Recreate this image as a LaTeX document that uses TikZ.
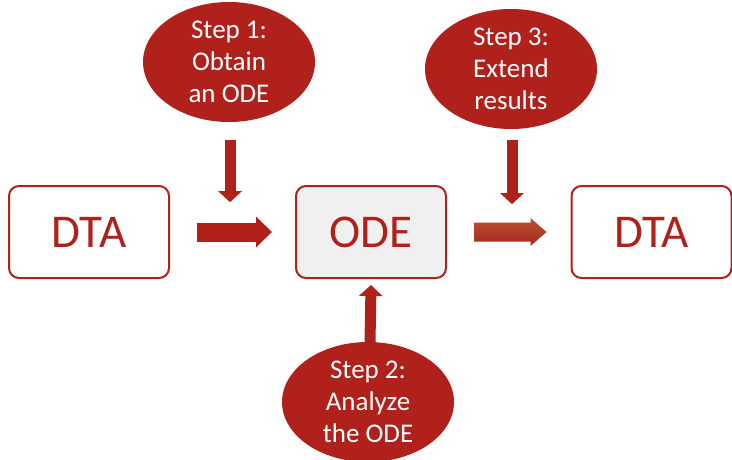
\documentclass[tikz,border=0pt]{standalone}
\usepackage{fontspec}
\setmainfont{Carlito}
\usetikzlibrary{arrows.meta,calc,shapes.geometric}
\definecolor{dred}{RGB}{175,33,26}
\definecolor{boxgray}{RGB}{240,240,240}
\definecolor{gradtop}{RGB}{186,82,50}
\definecolor{gradbot}{RGB}{165,40,28}
\tikzset{
  x=1pt,y=1pt,
  box/.style={draw=dred,line width=2pt,rounded corners=10pt,minimum width=160pt,minimum height=92pt,
    inner sep=0pt,text=dred,font=\fontsize{47}{50}\selectfont},
  stepell/.style={ellipse,fill=dred,minimum width=172pt,minimum height=120pt,inner sep=0pt,
    text=white,align=center,font=\fontsize{27}{32}\selectfont},
  blockarrow/.style={draw=dred,line width=11pt,line cap=butt,-{Triangle[width=23pt,length=11pt]}},
  fatarrow/.style={draw=dred,line width=19pt,line cap=butt,-{Triangle[width=30pt,length=16pt]}},
}
\begin{document}
\begin{tikzpicture}
\useasboundingbox (0,0) rectangle (732,-459);
\node[box,fill=white] (dta1) at (89,-232) {DTA};
\node[box,fill=boxgray,minimum width=150pt] (ode) at (371,-232) {ODE};
\node[box,fill=white] (dta2) at (651.5,-232) {DTA};
\node[stepell] (s1) at (229,-62) {Step 1:\\Obtain\\an ODE};
\node[stepell] (s3) at (511,-69) {Step 3:\\Extend\\results};
\node[stepell] (s2) at (368,-402) {Step 2:\\Analyze\\the ODE};
% horizontal arrow 1
\coordinate (h1s) at ($(dta1.east)+(27,0)$);
\coordinate (h1e) at ($(ode.west)+(-23,0)$);
\draw[fatarrow] (h1s) -- (h1e);
% down arrow step 1
\coordinate (d1e) at ($(s1.south)+(1,-80)$);
\draw[blockarrow] ($(s1.south)+(1,-18)$) -- (d1e);
% down arrow step 3
\coordinate (d3e) at ($(s3.south)+(1,-75)$);
\draw[blockarrow] ($(s3.south)+(1,-11)$) -- (d3e);
% up arrow step 2
\coordinate (u2e) at ($(ode.south)+(0,-6)$);
\draw[blockarrow] ($(s2.north)+(2,-1)$) -- (u2e);
% gradient arrow
\coordinate (h2s) at ($(ode.east)+(27,0)$);
\coordinate (h2e) at ($(dta2.west)+(-24,0)$);
\shade[top color=gradtop,bottom color=gradbot]
  ($(h2s)+(0,9.5)$) -- ($(h2e)+(-16,9.5)$) -- ($(h2e)+(-16,14)$) -- (h2e)
  -- ($(h2e)+(-16,-14)$) -- ($(h2e)+(-16,-9.5)$) -- ($(h2s)+(0,-9.5)$) -- cycle;
\end{tikzpicture}
\end{document}
